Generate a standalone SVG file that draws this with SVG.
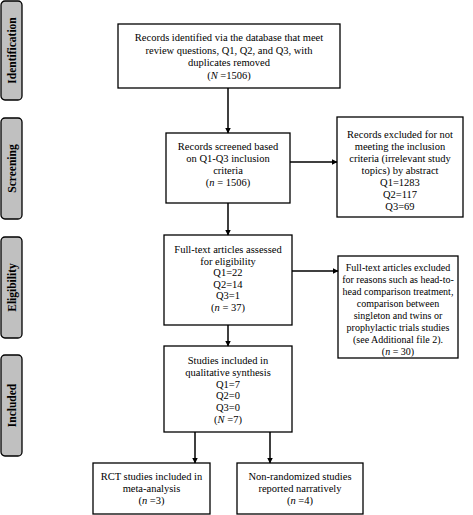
<svg xmlns="http://www.w3.org/2000/svg" width="473" height="515" viewBox="0 0 473 515">
<defs>
<marker id="ah" markerWidth="6" markerHeight="6" refX="5.5" refY="3" orient="auto" markerUnits="userSpaceOnUse">
<path d="M0,0 L6,3 L0,6 Z" fill="#000"/>
</marker>
</defs>
<style>
.box{fill:#fff;stroke:#000;stroke-width:1.3}
.side{fill:#c0c0c0;stroke:#000;stroke-width:1.3}
.t{font-family:"Liberation Serif","Times New Roman",serif;font-size:10.5px;fill:#000;text-anchor:middle}
.sm{font-size:10px}
.s{font-family:"Liberation Serif","Times New Roman",serif;font-size:11.5px;font-weight:bold;fill:#000;text-anchor:middle}
.c{stroke:#000;stroke-width:1.5;fill:none;marker-end:url(#ah)}
</style>
<rect width="473" height="515" fill="#fff"/>
<g id="side-identification"><rect class="side" x="1" y="1" width="21" height="99" rx="4"/><text class="s" transform="translate(15.5,50.5) rotate(-90)">Identification</text></g>
<g id="side-screening"><rect class="side" x="1" y="118" width="21" height="101" rx="4"/><text class="s" transform="translate(15.5,168.5) rotate(-90)">Screening</text></g>
<g id="side-eligibility"><rect class="side" x="1" y="237" width="21" height="101" rx="4"/><text class="s" transform="translate(15.5,287.5) rotate(-90)">Eligibility</text></g>
<g id="side-included"><rect class="side" x="1" y="355" width="21" height="101" rx="4"/><text class="s" transform="translate(15.5,405.5) rotate(-90)">Included</text></g>

<g id="identified"><rect class="box" x="118" y="24" width="222" height="64"/>
<text class="t" x="229" y="41">Records identified via the database that meet</text>
<text class="t" x="229" y="53.5">review questions, Q1, Q2, and Q3, with</text>
<text class="t" x="229" y="66">duplicates removed</text>
<text class="t" x="229" y="78.5">(<tspan font-style="italic">N</tspan> =1506)</text></g>

<g id="screened"><rect class="box" x="166" y="133" width="124" height="70"/>
<text class="t" x="228" y="150">Records screened based</text>
<text class="t" x="228" y="162">on Q1-Q3 inclusion</text>
<text class="t" x="228" y="174">criteria</text>
<text class="t" x="228" y="186">(<tspan font-style="italic">n</tspan> = 1506)</text></g>

<g id="excluded-abstract"><rect class="box" x="337" y="117" width="126" height="100"/>
<text class="t" x="400" y="138">Records excluded for not</text>
<text class="t" x="400" y="150">meeting the inclusion</text>
<text class="t" x="400" y="162">criteria (irrelevant study</text>
<text class="t" x="400" y="174">topics) by abstract</text>
<text class="t" x="400" y="186">Q1=1283</text>
<text class="t" x="400" y="198">Q2=117</text>
<text class="t" x="400" y="210">Q3=69</text></g>

<g id="fulltext"><rect class="box" x="164" y="235" width="128" height="90"/>
<text class="t" x="228" y="253">Full-text articles assessed</text>
<text class="t" x="228" y="264.6">for eligibility</text>
<text class="t" x="228" y="276.2">Q1=22</text>
<text class="t" x="228" y="287.8">Q2=14</text>
<text class="t" x="228" y="299.4">Q3=1</text>
<text class="t" x="228" y="311">(<tspan font-style="italic">n</tspan> = 37)</text></g>

<g id="excluded-fulltext"><rect class="box" x="338" y="256" width="120" height="102"/>
<text class="t sm" x="398" y="271">Full-text articles excluded</text>
<text class="t sm" x="398" y="283">for reasons such as head-to-</text>
<text class="t sm" x="398" y="295">head comparison treatment,</text>
<text class="t sm" x="398" y="307">comparison between</text>
<text class="t sm" x="398" y="319">singleton and twins or</text>
<text class="t sm" x="398" y="331">prophylactic trials studies</text>
<text class="t sm" x="398" y="343">(see Additional file 2).</text>
<text class="t sm" x="398" y="355">(<tspan font-style="italic">n</tspan> = 30)</text></g>

<g id="included"><rect class="box" x="164" y="346" width="128" height="86"/>
<text class="t" x="228" y="364">Studies included in</text>
<text class="t" x="228" y="375.8">qualitative synthesis</text>
<text class="t" x="228" y="387.6">Q1=7</text>
<text class="t" x="228" y="399.4">Q2=0</text>
<text class="t" x="228" y="411.2">Q3=0</text>
<text class="t" x="228" y="423">(<tspan font-style="italic">N</tspan> =7)</text></g>

<g id="rct"><rect class="box" x="93" y="463" width="117" height="51"/>
<text class="t" x="151.5" y="480">RCT studies included in</text>
<text class="t" x="151.5" y="492">meta-analysis</text>
<text class="t" x="151.5" y="504">(<tspan font-style="italic">n</tspan> =3)</text></g>

<g id="nonrandomized"><rect class="box" x="237" y="463" width="126" height="51"/>
<text class="t" x="300" y="480">Non-randomized studies</text>
<text class="t" x="300" y="492">reported narratively</text>
<text class="t" x="300" y="504">(<tspan font-style="italic">n</tspan> =4)</text></g>

<g id="connectors">
<line class="c" x1="228" y1="88" x2="228" y2="133"/>
<line class="c" x1="290" y1="162" x2="337" y2="162"/>
<line class="c" x1="228" y1="203" x2="228" y2="235"/>
<line class="c" x1="292" y1="271" x2="338" y2="271"/>
<line class="c" x1="228" y1="325" x2="228" y2="346"/>
<line class="c" x1="195" y1="432" x2="195" y2="463"/>
<line class="c" x1="270" y1="432" x2="270" y2="463"/>
</g>
</svg>
